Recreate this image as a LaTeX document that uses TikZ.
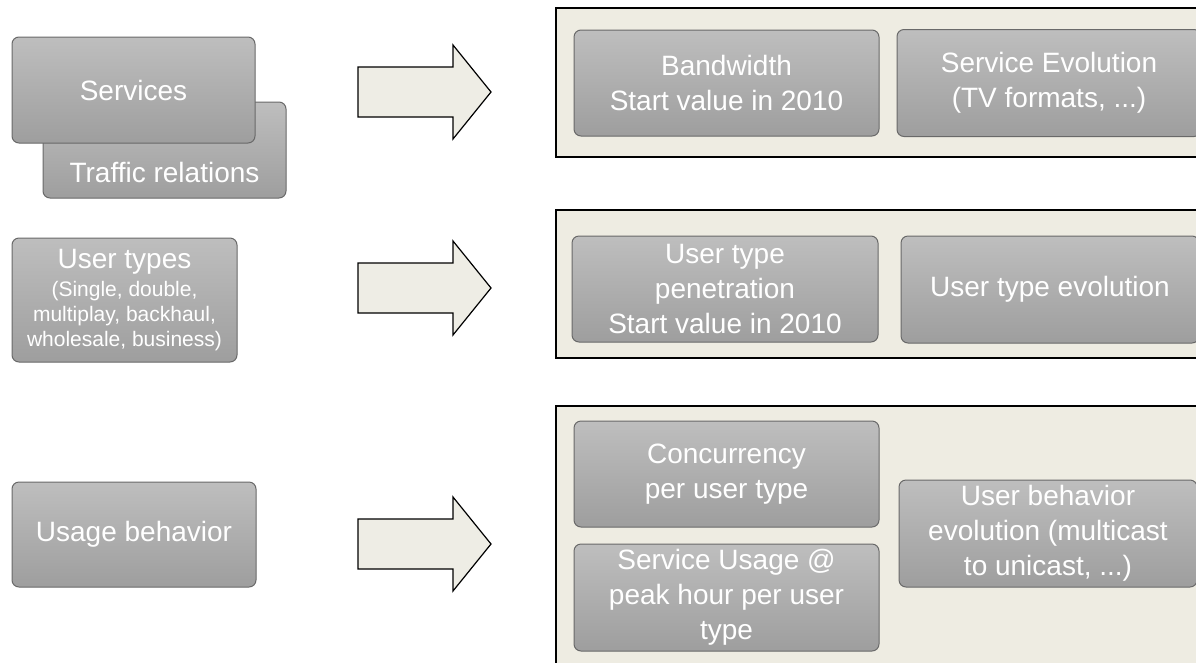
\documentclass[tikz,border=0pt]{standalone}
\usepackage{fontspec}
\setmainfont{Liberation Sans}
\usepackage{xcolor}

\definecolor{boxtop}{RGB}{190,190,190}
\definecolor{boxbot}{RGB}{158,158,158}
\definecolor{boxline}{RGB}{105,105,105}
\definecolor{panelfill}{RGB}{238,236,226}
\definecolor{arrowfill}{RGB}{238,237,229}
\newcommand{\bigtypes}{\fontsize{28}{35}\selectfont}

\begin{document}
\begin{tikzpicture}[x=1pt,y=-1pt,
    gbox/.style={draw=boxline,line width=1pt,rounded corners=7pt,top color=boxtop,bottom color=boxbot,
      text=white,align=center,inner sep=0pt,font=\fontsize{28}{35}\selectfont},
    boxtext/.style={text=white,align=center,inner sep=0pt,font=\fontsize{28}{35}\selectfont},
    panel/.style={draw=black,line width=1.5pt,fill=panelfill},
    blockarrow/.style={draw=black,line width=1.2pt,fill=arrowfill,line join=miter}]
            \clip (0,0) rectangle (1196,662);
            \fill[white] (0,0) rectangle (1196,662);
            % left column
            \node[gbox,minimum width=243pt,minimum height=96pt] at (164.5,150) (traffic) {};
            \node[boxtext] at (164.5,172) (traffictext) {Traffic relations};
            \node[gbox,minimum width=243pt,minimum height=106pt] at (133.5,90) (services) {Services};
            \node[gbox,minimum width=225pt,minimum height=124pt,font=\fontsize{21}{25}\selectfont] at (124.5,300) (usertypes)
              {\bigtypes User types\\[3pt](Single, double,\\multiplay, backhaul,\\wholesale, business)};
            \node[gbox,minimum width=244pt,minimum height=105pt] at (134,534.5) (usage) {Usage behavior};
            % arrows
            \foreach \y in {92,288,544}
              \draw[blockarrow] (358,\y-25) -- (453,\y-25) -- (453,\y-47) -- (491,\y)
                -- (453,\y+47) -- (453,\y+25) -- (358,\y+25) -- cycle;
            % right panels
            \draw[panel] (556,8) rectangle (1215,157);
            \draw[panel] (556,210) rectangle (1215,358);
            \draw[panel] (556,406) rectangle (1215,690);
            \node[gbox,minimum width=305pt,minimum height=106pt] at (726.5,83) (bandwidth) {Bandwidth\\Start value in 2010};
            \node[gbox,minimum width=304pt,minimum height=107pt] at (1049,83) (serviceevo) {Service Evolution\\(TV formats, ...)};
            \node[gbox,minimum width=306pt,minimum height=106pt] at (725,289) (penetration) {User type\\penetration\\Start value in 2010};
            \node[gbox,minimum width=298pt,minimum height=107pt] at (1050,289.5) (usertypeevo) {User type evolution};
            \node[gbox,minimum width=305pt,minimum height=106pt] at (726.5,474) (concurrency) {Concurrency\\per user type};
            \node[gbox,minimum width=305pt,minimum height=107pt] at (726.5,597.5) (serviceusage) {Service Usage @\\peak hour per user\\type};
            \node[gbox,minimum width=298pt,minimum height=107pt] at (1048,533.5) (behaviorevo) {User behavior\\evolution (multicast\\to unicast, ...)};
          \end{tikzpicture}
\end{document}
